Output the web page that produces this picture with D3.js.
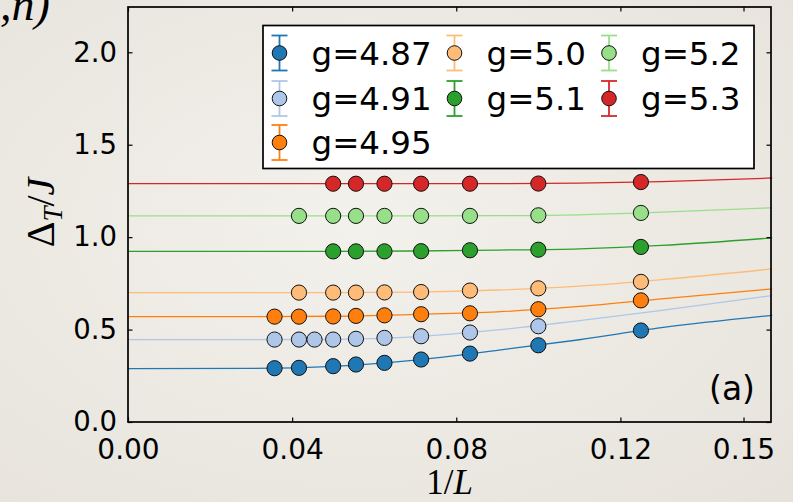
<!DOCTYPE html>
<html>
<head>
<meta charset="utf-8">
<script src="https://cdn.jsdelivr.net/npm/d3@7"></script>
<style>
  html, body { margin: 0; padding: 0; background: #eeebe5; }
  svg { display: block; }
  text { font-family: "DejaVu Sans", sans-serif; fill: #000; }
  .math { font-family: "Liberation Serif", "DejaVu Serif", serif; }
</style>
</head>
<body>
<div id="chart"></div>
<script>
// data
const seriesNames = ['g=4.87', 'g=4.91', 'g=4.95', 'g=5.0', 'g=5.1', 'g=5.2', 'g=5.3'];
const seriesColors = ['#1f77b4', '#aec7e8', '#ff7f0e', '#ffbb78', '#2ca02c', '#98df8a', '#d62728'];

// system sizes L per series, gap values Delta_T/J
const L487 = [28, 24, 20, 18, 16, 14, 12, 10, 8];
const gap487 = [0.291, 0.293, 0.302, 0.311, 0.320, 0.338, 0.370, 0.415, 0.495];
const L491 = [28, 24, 22, 20, 18, 16, 14, 12, 10];
const gap491 = [0.446, 0.446, 0.446, 0.446, 0.450, 0.455, 0.464, 0.484, 0.518];
const L495 = [28, 24, 20, 18, 16, 14, 12, 10, 8];
const gap495 = [0.570, 0.570, 0.571, 0.574, 0.577, 0.583, 0.588, 0.610, 0.658];
const L50 = [24, 20, 18, 16, 14, 12, 10, 8];
const gap50 = [0.700, 0.700, 0.700, 0.701, 0.703, 0.711, 0.723, 0.758];
const L51 = [20, 18, 16, 14, 12, 10, 8];
const gap51 = [0.923, 0.923, 0.923, 0.924, 0.929, 0.932, 0.947];
const L52 = [24, 20, 18, 16, 14, 12, 10, 8];
const gap52 = [1.115, 1.115, 1.115, 1.115, 1.115, 1.115, 1.118, 1.131];
const L53 = [20, 18, 16, 14, 12, 10, 8];
const gap53 = [1.289, 1.289, 1.289, 1.289, 1.289, 1.290, 1.298];

// fitted curves, read at these 1/L positions
const fitX = [0, 0.03, 0.05, 0.07, 0.09, 0.11, 0.13, 0.157];
const fit487 = [0.289, 0.290, 0.301, 0.335, 0.388, 0.445, 0.510, 0.577];
const fit491 = [0.446, 0.446, 0.447, 0.461, 0.498, 0.548, 0.604, 0.684];
const fit495 = [0.570, 0.570, 0.572, 0.582, 0.596, 0.625, 0.666, 0.720];
const fit50 = [0.700, 0.700, 0.700, 0.703, 0.714, 0.735, 0.770, 0.828];
const fit51 = [0.923, 0.923, 0.923, 0.925, 0.930, 0.937, 0.955, 0.996];
const fit52 = [1.115, 1.115, 1.115, 1.115, 1.116, 1.121, 1.135, 1.159];
const fit53 = [1.289, 1.289, 1.289, 1.289, 1.289, 1.292, 1.300, 1.320];

const xTicks = [0.00, 0.04, 0.08, 0.12, 0.15];
const yTicks = [0.0, 0.5, 1.0, 1.5, 2.0];

const allL = [L487, L491, L495, L50, L51, L52, L53];
const allGap = [gap487, gap491, gap495, gap50, gap51, gap52, gap53];
const allFit = [fit487, fit491, fit495, fit50, fit51, fit52, fit53];

const width = 793, height = 502;
const margin = {left: 128, right: 22, top: 7, bottom: 80};

const svg = d3.select('#chart').append('svg')
    .attr('width', width)
    .attr('height', height);

// paper-ish background
const defs = svg.append('defs');
const grad = defs.append('radialGradient').attr('id', 'paper')
    .attr('cx', '45%').attr('cy', '45%').attr('r', '75%');
grad.append('stop').attr('offset', '0%').attr('stop-color', '#f3f1ec');
grad.append('stop').attr('offset', '100%').attr('stop-color', '#e7e3dc');
svg.append('rect').attr('width', width).attr('height', height).attr('fill', 'url(#paper)');

const x = d3.scaleLinear()
    .domain([0, 0.1567])
    .range([margin.left, width - margin.right]);
const y = d3.scaleLinear()
    .domain([0, 2.245])
    .range([height - margin.bottom, margin.top]);

const plot = svg.append('g');

// fit curves
const line = d3.line()
    .x((d, i) => x(fitX[i]))
    .y(d => y(d))
    .curve(d3.curveMonotoneX);

allFit.forEach((f, k) => {
    plot.append('path')
        .attr('d', line(f))
        .attr('fill', 'none')
        .attr('stroke', seriesColors[k])
        .attr('stroke-width', 1.3);
});

// data points
allL.forEach((Ls, k) => {
    const pts = Ls.map((L, i) => ({inv: 1 / L, v: allGap[k][i]}))
        .sort((a, b) => a.inv - b.inv);
    plot.append('g').selectAll('circle')
        .data(pts)
        .enter()
        .append('circle')
        .attr('cx', d => x(d.inv))
        .attr('cy', d => y(d.v))
        .attr('r', 7.6)
        .attr('fill', seriesColors[k])
        .attr('stroke', '#111')
        .attr('stroke-width', 1);
});

// axes, ticks pointing inward on all four sides
const tickLen = 4.5;
const fmtX = d3.format('.2f'), fmtY = d3.format('.1f');
const axBottom = d3.axisBottom(x).tickValues(xTicks).tickSize(-tickLen).tickPadding(17).tickFormat(fmtX);
const axTop = d3.axisTop(x).tickValues(xTicks).tickSize(-tickLen).tickFormat('');
const axLeft = d3.axisLeft(y).tickValues(yTicks).tickSize(-tickLen).tickPadding(11).tickFormat(fmtY);
const axRight = d3.axisRight(y).tickValues(yTicks).tickSize(-tickLen).tickFormat('');

function styleAxis(g, size) {
    g.select('.domain').remove();
    g.selectAll('.tick line').attr('stroke', '#000').attr('stroke-width', 1.2);
    g.selectAll('.tick text')
        .style('font-family', '"DejaVu Sans", sans-serif')
        .style('font-size', size + 'px')
        .attr('fill', '#000');
}

svg.append('g').attr('transform', `translate(0,${y(0)})`).call(axBottom).call(g => styleAxis(g, 28));
svg.append('g').attr('transform', `translate(0,${margin.top})`).call(axTop).call(g => styleAxis(g, 28));
svg.append('g').attr('transform', `translate(${x(0)},0)`).call(axLeft).call(g => styleAxis(g, 27.5));
svg.append('g').attr('transform', `translate(${width - margin.right},0)`).call(axRight).call(g => styleAxis(g, 27.5));

// frame
svg.append('rect')
    .attr('x', x(0)).attr('y', margin.top)
    .attr('width', width - margin.right - x(0))
    .attr('height', y(0) - margin.top)
    .attr('fill', 'none')
    .attr('stroke', '#000')
    .attr('stroke-width', 1.7);

// legend
const legend = svg.append('g');
legend.append('rect')
    .attr('x', 263).attr('y', 25.5)
    .attr('width', 491).attr('height', 143)
    .attr('fill', '#fff')
    .attr('stroke', '#000')
    .attr('stroke-width', 1.7);

const colX = [279.5, 454.5, 609];
const rowY = [53, 98.5, 142.5];
// matplotlib fills columns top to bottom: 3 rows, then 2, then 2
const slots = [[0, 0], [0, 1], [0, 2], [1, 0], [1, 1], [2, 0], [2, 1]];

seriesNames.forEach((name, k) => {
    const cx = colX[slots[k][0]], cy = rowY[slots[k][1]];
    const item = legend.append('g');
    item.append('line')
        .attr('x1', cx).attr('x2', cx).attr('y1', cy - 17.5).attr('y2', cy + 17.5)
        .attr('stroke', seriesColors[k]).attr('stroke-width', 1.8);
    [-17.5, 17.5].forEach(dy => {
        item.append('line')
            .attr('x1', cx - 8).attr('x2', cx + 8).attr('y1', cy + dy).attr('y2', cy + dy)
            .attr('stroke', seriesColors[k]).attr('stroke-width', 1.8);
    });
    item.append('circle')
        .attr('cx', cx).attr('cy', cy).attr('r', 7.3)
        .attr('fill', seriesColors[k])
        .attr('stroke', '#111').attr('stroke-width', 1);
    item.append('text')
        .attr('x', cx + 32).attr('y', cy)
        .attr('dy', '0.36em')
        .style('font-size', '32.5px')
        .text(name);
});

// panel tag
svg.append('text')
    .attr('x', 755).attr('y', 400)
    .attr('text-anchor', 'end')
    .style('font-size', '33px')
    .text('(a)');

// x label: 1/L
const xl = svg.append('text')
    .attr('class', 'math')
    .attr('x', x(0) + (width - margin.right - x(0)) / 2)
    .attr('y', 494)
    .attr('text-anchor', 'middle')
    .style('font-size', '35px');
xl.append('tspan').text('1/');
xl.append('tspan').style('font-style', 'italic').text('L');

// y label: Delta_T / J
const yl = svg.append('text')
    .attr('class', 'math')
    .attr('transform', `translate(54,${(y(0) + margin.top) / 2 - 2}) rotate(-90)`)
    .attr('text-anchor', 'middle')
    .style('font-size', '40px');
yl.append('tspan').text('\u0394');
yl.append('tspan').attr('dy', 8).style('font-size', '27px').style('font-style', 'italic').text('T');
yl.append('tspan').attr('dy', -8).text('/');
yl.append('tspan').style('font-style', 'italic').text('J');

// clipped piece of a heading above the panel
svg.append('text')
    .attr('class', 'math')
    .attr('x', 0).attr('y', 20)
    .style('font-size', '46px')
    .style('font-style', 'italic')
    .text(',n)');
</script>
</body>
</html>
